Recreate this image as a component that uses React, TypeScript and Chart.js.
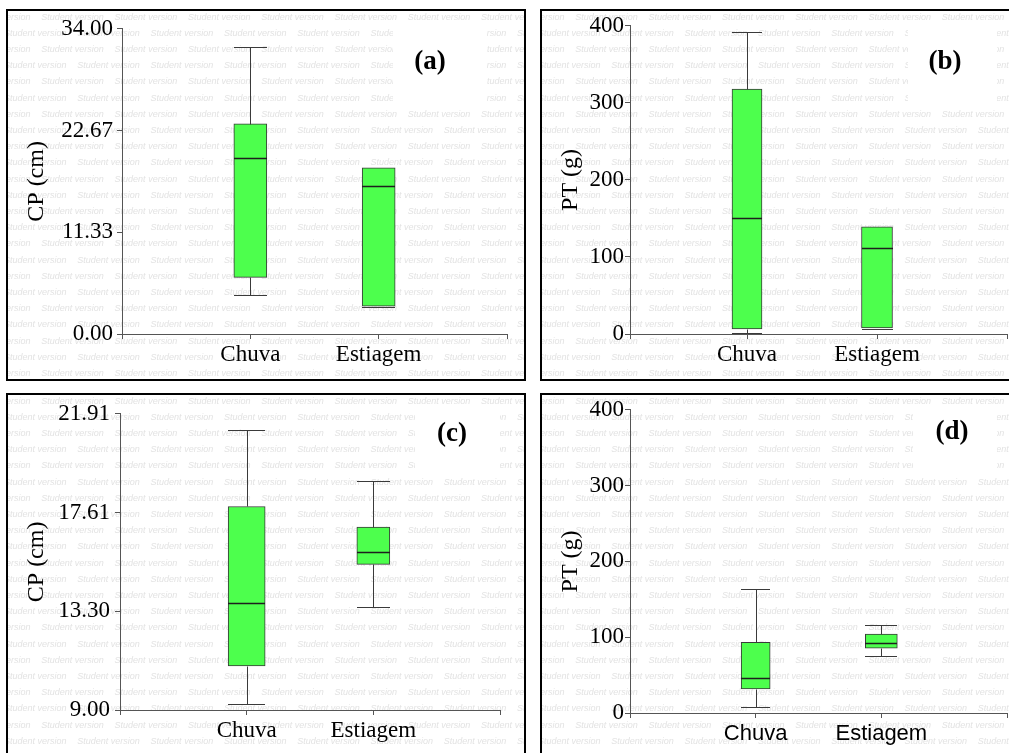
import React, { useEffect, useRef } from "react";
import { Chart, registerables } from "chart.js";

Chart.register(...registerables);

// Box-plot statistics per group: [min, q1, median, q3, max]
const categories = ["Chuva", "Estiagem"];

const cpRainA = [4.4, 6.3, 19.6, 23.4, 32.0];
const cpDryA = [3.1, 3.1, 16.5, 18.5, 18.5];

const ptRainB = [1.5, 6.5, 151, 318, 392];
const ptDryB = [8, 8, 112, 139, 139];

const cpRainC = [9.27, 10.92, 13.68, 17.87, 21.2];
const cpDryC = [13.48, 15.35, 15.89, 16.97, 19.0];

const ptRainD = [7.3, 31.8, 46.2, 93.3, 164];
const ptDryD = [75, 85.5, 93, 104, 115.6];

// y-axis tick values and their printed labels
const cpTicksA = [0, 11.333, 22.667, 34];
const cpTickLabelsA = ["0.00", "11.33", "22.67", "34.00"];
const cpTicksC = [9, 13.303, 17.607, 21.91];
const cpTickLabelsC = ["9.00", "13.30", "17.61", "21.91"];
const ptTicks = [0, 100, 200, 300, 400];
const ptTickLabels = ["0", "100", "200", "300", "400"];

const SERIF = "'Liberation Serif', 'Times New Roman', serif";
const SANS = "'Liberation Sans', Arial, sans-serif";
const BOX_FILL = "#4dff4d";
const LINE = "#3a3a3a";
const AXIS = "#555555";

type PanelSpec = {
  tag: string;
  title: string;
  rain: number[];
  dry: number[];
  rainWidth: number;
  dryWidth: number;
  yMin: number;
  yMax: number;
  yTicks: number[];
  yLabels: string[];
  xMin: number;
  // layout
  left: number;
  top: number;
  width: number;
  height: number;
  area: { l: number; t: number; r: number; b: number };
  yPad: number;
  xFont: string;
  xSize: number;
  xPad: number;
  tagBox: { x: number; y: number; w: number; h: number };
  tagPos: { x: number; y: number };
};

const panels: PanelSpec[] = [
  {
    tag: "(a)", title: "CP (cm)", rain: cpRainA, dry: cpDryA, rainWidth: 33, dryWidth: 33,
    yMin: 0, yMax: 34, yTicks: cpTicksA, yLabels: cpTickLabelsA, xMin: 0,
    left: 6, top: 9, width: 520, height: 372,
    area: { l: 114, t: 13, r: 499, b: 323 }, yPad: 4,
    xFont: SERIF, xSize: 23, xPad: 2,
    tagBox: { x: 385, y: 15, w: 94, h: 78 }, tagPos: { x: 422, y: 51 },
  },
  {
    tag: "(b)", title: "PT (g)", rain: ptRainB, dry: ptDryB, rainWidth: 30, dryWidth: 31,
    yMin: 0, yMax: 400, yTicks: ptTicks, yLabels: ptTickLabels, xMin: 0.1,
    left: 540, top: 9, width: 480, height: 372,
    area: { l: 88, t: 13, r: 465, b: 323 }, yPad: 1,
    xFont: SERIF, xSize: 23, xPad: 2,
    tagBox: { x: 366, y: 16, w: 89, h: 76 }, tagPos: { x: 403, y: 51 },
  },
  {
    tag: "(c)", title: "CP (cm)", rain: cpRainC, dry: cpDryC, rainWidth: 37, dryWidth: 33,
    yMin: 9, yMax: 21.91, yTicks: cpTicksC, yLabels: cpTickLabelsC, xMin: 0,
    left: 6, top: 393, width: 520, height: 372,
    area: { l: 112, t: 13, r: 492, b: 315 }, yPad: 5,
    xFont: SERIF, xSize: 23, xPad: 2,
    tagBox: { x: 407, y: 13, w: 85, h: 64 }, tagPos: { x: 444, y: 39 },
  },
  {
    tag: "(d)", title: "PT (g)", rain: ptRainD, dry: ptDryD, rainWidth: 29, dryWidth: 32,
    yMin: 0, yMax: 400, yTicks: ptTicks, yLabels: ptTickLabels, xMin: 0,
    left: 540, top: 393, width: 480, height: 372,
    area: { l: 88, t: 13, r: 465, b: 318 }, yPad: 1,
    xFont: SANS, xSize: 22, xPad: 3,
    tagBox: { x: 371, y: 13, w: 84, h: 64 }, tagPos: { x: 410, y: 37 },
  },
];

// Faint tiled "Student version" text behind the plot, plus a clean patch for the panel tag
const backdropPlugin = {
  id: "backdrop",
  beforeDraw(chart: any) {
    const spec: PanelSpec = chart.options.plugins.backdrop.spec;
    const { ctx, width, height } = chart;
    ctx.save();
    ctx.fillStyle = "#ffffff";
    ctx.fillRect(0, 0, width, height);
    ctx.font = `italic 9px ${SANS}`;
    ctx.fillStyle = "#e3e3e3";
    ctx.textBaseline = "middle";
    const pitchX = 73.3;
    const pitchY = 16.2;
    for (let row = 0; row * pitchY < height + pitchY; row++) {
      const y = 6 + row * pitchY;
      const shift = row % 2 === 0 ? -36 : 0;
      for (let x = shift - 4; x < width + pitchX; x += pitchX) {
        ctx.fillText("Student version", x, y);
      }
    }
    const b = spec.tagBox;
    ctx.fillStyle = "#ffffff";
    ctx.fillRect(b.x, b.y, b.w, b.h);
    ctx.restore();
  },
  afterDraw(chart: any) {
    const spec: PanelSpec = chart.options.plugins.backdrop.spec;
    const { ctx } = chart;
    ctx.save();
    ctx.font = `bold 27px ${SERIF}`;
    ctx.fillStyle = "#000";
    ctx.textAlign = "center";
    ctx.textBaseline = "middle";
    ctx.fillText(spec.tag, spec.tagPos.x, spec.tagPos.y);
    ctx.restore();
  },
};

// Whiskers, caps and median lines drawn over the floating-bar boxes
const whiskerPlugin = {
  id: "whiskers",
  afterDatasetsDraw(chart: any) {
    const { ctx } = chart;
    const yScale = chart.scales.y;
    ctx.save();
    chart.data.datasets.forEach((ds: any, i: number) => {
      const meta = chart.getDatasetMeta(i);
      const el: any = meta.data[0];
      if (!el) return;
      const [mn, q1, med, q3, mx] = ds.stats as number[];
      const cx = Math.round(el.x) + 0.5;
      const half = el.width / 2;
      const x0 = Math.round(el.x - half);
      const x1 = Math.round(el.x + half);
      const py = (v: number) => Math.round(yScale.getPixelForValue(v)) + 0.5;
      ctx.strokeStyle = LINE;
      ctx.lineWidth = 1;
      ctx.beginPath();
      // upper whisker and cap
      if (mx > q3) {
        ctx.moveTo(cx, py(q3));
        ctx.lineTo(cx, py(mx));
        ctx.moveTo(x0, py(mx));
        ctx.lineTo(x1, py(mx));
      }
      // lower whisker and cap
      if (mn < q1) {
        ctx.moveTo(cx, py(q1));
        ctx.lineTo(cx, py(mn));
        ctx.moveTo(x0, py(mn));
        ctx.lineTo(x1, py(mn));
      } else {
        ctx.moveTo(x0, py(mn) + 1);
        ctx.lineTo(x1, py(mn) + 1);
      }
      ctx.stroke();
      // median
      ctx.strokeStyle = "#1e1e1e";
      ctx.lineWidth = 1.5;
      ctx.beginPath();
      ctx.moveTo(x0, py(med));
      ctx.lineTo(x1, py(med));
      ctx.stroke();
    });
    ctx.restore();
  },
};

function Panel({ spec }: { spec: PanelSpec }) {
  const ref = useRef<HTMLCanvasElement | null>(null);
  const cw = spec.width - 4;
  const ch = spec.height - 4;

  useEffect(() => {
    if (!ref.current) return;
    const a = spec.area;
    const boxDataset = (label: string, pos: number, s: number[], w: number) => ({
      label,
      data: [{ x: pos, y: [s[1], s[3]] }],
      stats: s,
      backgroundColor: BOX_FILL,
      borderColor: LINE,
      borderWidth: 1,
      borderSkipped: false,
      barThickness: w,
      grouped: false,
    });

    const chart = new Chart(ref.current, {
      type: "bar",
      data: {
        datasets: [
          boxDataset(categories[0], 1, spec.rain, spec.rainWidth),
          boxDataset(categories[1], 2, spec.dry, spec.dryWidth),
        ] as any,
      },
      options: {
        responsive: false,
        animation: false,
        layout: { padding: { left: 0, top: a.t, right: cw - a.r, bottom: 0 } },
        plugins: {
          legend: { display: false },
          tooltip: { enabled: false },
          backdrop: { spec },
        } as any,
        scales: {
          x: {
            type: "linear",
            min: spec.xMin,
            max: 3,
            offset: false,
            afterFit: (s: any) => {
              s.height = ch - a.b;
            },
            afterBuildTicks: (s: any) => {
              s.ticks = [{ value: spec.xMin }, { value: 1 }, { value: 2 }, { value: 3 }];
            },
            ticks: {
              autoSkip: false,
              maxRotation: 0,
              padding: spec.xPad,
              color: "#000",
              font: { family: spec.xFont, size: spec.xSize },
              callback: (v: any) => (v === 1 || v === 2 ? categories[v - 1] : ""),
            },
            grid: {
              display: true,
              offset: false,
              drawOnChartArea: false,
              drawTicks: true,
              tickLength: 5,
              color: AXIS,
            },
            border: { display: true, color: AXIS, width: 1 },
          },
          y: {
            type: "linear",
            min: spec.yMin,
            max: spec.yMax,
            afterFit: (s: any) => {
              s.width = a.l;
            },
            afterBuildTicks: (s: any) => {
              s.ticks = spec.yTicks.map((v) => ({ value: v }));
            },
            ticks: {
              autoSkip: false,
              padding: spec.yPad,
              color: "#000",
              font: { family: SERIF, size: 23 },
              callback: (_v: any, i: number) => spec.yLabels[i],
            },
            grid: {
              display: true,
              offset: false,
              drawOnChartArea: false,
              drawTicks: true,
              tickLength: 5,
              color: AXIS,
            },
            border: { display: true, color: AXIS, width: 1 },
            title: {
              display: true,
              text: spec.title,
              color: "#000",
              font: { family: SERIF, size: 24 },
              padding: { top: 14, bottom: 0 },
            },
          },
        },
      } as any,
      plugins: [backdropPlugin, whiskerPlugin],
    });
    return () => chart.destroy();
  }, [spec]);

  return (
    <div
      style={{
        position: "absolute",
        left: spec.left,
        top: spec.top,
        width: spec.width,
        height: spec.height,
        border: "2px solid #000",
        boxSizing: "border-box",
        background: "#fff",
      }}
    >
      <canvas ref={ref} width={cw} height={ch} style={{ display: "block" }} />
    </div>
  );
}

export default function App() {
  return (
    <div
      style={{
        position: "fixed",
        left: 0,
        top: 0,
        width: 1009,
        height: 753,
        overflow: "hidden",
        background: "#fff",
      }}
    >
      {panels.map((p) => (
        <Panel key={p.tag} spec={p} />
      ))}
    </div>
  );
}
